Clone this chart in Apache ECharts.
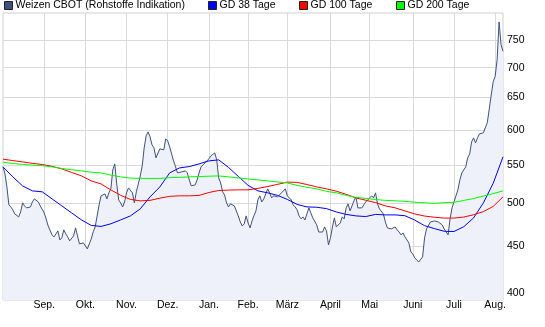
<!DOCTYPE html>
<html>
<head>
<meta charset="utf-8">
<script src="https://cdn.jsdelivr.net/npm/echarts@6/dist/echarts.min.js"></script>
<style>
  html, body { margin: 0; padding: 0; background: #fff; }
  #chart { width: 545px; height: 327px; }
</style>
</head>
<body>
<div id="chart"></div>
<script>
// Weizen CBOT, daily settlement (US cents/bushel) with 38/100/200-day moving averages.

// Trading sessions shown: 3 Aug 2011 – 7 Aug 2012, exchange holidays skipped
const firstDay = '2011-08-03';
const lastDay = '2012-08-07';
const exchangeHolidays = [
  '2011-09-05', '2011-11-24', '2011-12-26', '2012-01-02', '2012-01-16',
  '2012-02-20', '2012-04-06', '2012-05-28', '2012-07-04'
];

const monthNames = ['Jan.', 'Feb.', 'März', 'April', 'Mai', 'Juni', 'Juli', 'Aug.', 'Sep.', 'Okt.', 'Nov.', 'Dez.'];

// Price scale (logarithmic)
const priceTicks = [400, 450, 500, 550, 600, 650, 700, 750];
const priceRange = [393.6, 801.5];

const seriesNames = ['Weizen CBOT (Rohstoffe Indikation)', 'GD 38 Tage', 'GD 100 Tage', 'GD 200 Tage'];

// One close per trading session
const price = [
  547.4, 537.9, 520.9, 498.2, 495.7, 492.1, 487.2, 489.6, 483.6, 489.6,
  500.7, 497.0, 494.5, 493.3, 495.7, 501.9, 505.7, 508.2, 501.9, 497.0,
  498.2, 488.4, 481.2, 473.0, 471.7, 462.5, 460.2, 461.4, 467.1, 456.8,
  459.1, 468.3, 463.7, 460.2, 455.7, 456.8, 461.4, 470.6, 468.3, 452.3,
  451.2, 453.4, 451.2, 446.7, 444.5, 457.9, 466.0, 471.7, 472.9, 498.2,
  509.5, 510.7, 512.0, 505.7, 513.3, 518.4, 543.3, 551.5, 524.8, 504.4,
  500.7, 495.7, 501.9, 513.3, 519.6, 518.4, 513.3, 500.7, 514.6, 524.8,
  535.3, 548.7, 573.8, 591.1, 597.0, 589.6, 578.1, 573.8, 559.8, 559.8,
  572.4, 571.0, 571.0, 586.8, 583.8, 575.2, 565.3, 555.6, 547.4, 539.3,
  539.3, 540.6, 540.6, 542.0, 539.3, 530.0, 522.2, 523.5, 523.5, 530.0,
  539.3, 547.4, 547.4, 552.8, 555.6, 558.4, 562.5, 559.8, 566.7, 557.0,
  532.6, 526.1, 514.6, 510.7, 500.7, 495.7, 499.5, 499.5, 497.0, 495.7,
  484.8, 477.6, 472.9, 475.3, 484.8, 476.4, 470.6, 478.8, 485.0, 490.9,
  504.4, 509.5, 501.9, 505.7, 508.2, 518.4, 513.3, 506.9, 509.5, 512.0,
  508.2, 509.5, 513.3, 515.8, 518.4, 509.5, 509.5, 504.4, 498.2, 495.7,
  492.1, 484.8, 481.2, 483.6, 480.0, 487.2, 494.5, 488.4, 482.4, 481.2,
  474.1, 465.8, 465.8, 465.8, 471.7, 467.1, 451.2, 459.1, 471.7, 482.4,
  471.7, 470.6, 476.4, 483.6, 481.2, 494.5, 499.5, 490.9, 497.0, 503.2,
  508.2, 494.5, 492.1, 494.5, 498.2, 501.9, 503.2, 506.9, 509.5, 506.9,
  513.3, 499.5, 493.3, 492.1, 487.2, 477.6, 470.6, 468.3, 469.4, 471.7,
  471.7, 468.3, 465.8, 462.5, 464.8, 460.2, 460.2, 453.4, 443.4, 441.2,
  436.9, 434.7, 432.5, 430.4, 437.9, 459.1, 469.4, 470.6, 477.6, 477.6,
  478.8, 477.6, 477.6, 476.4, 474.1, 469.4, 467.1, 462.5, 481.2, 494.5,
  501.9, 501.9, 517.1, 530.0, 539.3, 539.3, 547.4, 559.8, 565.3, 582.4,
  588.2, 580.9, 588.2, 594.1, 595.6, 595.6, 597.0, 611.0, 632.0, 654.4,
  676.0, 685.0, 714.0, 784.0, 741.0, 729.0
];

// Moving averages, one value every 5th session (sessions 0, 5, 10, ... 255)
const maStep = 5;
const gd38 = [
  547.4, 534.0, 522.2, 515.8, 514.6, 505.7, 497.0, 488.4, 480.0, 473.5,
  472.3, 475.4, 480.0, 484.8, 493.3, 508.2, 520.9, 539.3, 546.0, 547.8,
  551.5, 555.6, 557.0, 546.7, 534.6, 522.9, 515.8, 513.3, 510.1, 505.0,
  498.8, 495.7, 495.3, 493.6, 489.6, 486.6, 484.8, 484.0, 486.6, 486.0,
  486.0, 485.0, 479.8, 473.2, 469.8, 466.7, 466.4, 472.0, 482.4, 500.7,
  525.6, 561.2
];
const gd100 = [
  558.0, 556.0, 554.2, 552.2, 550.7, 548.1, 544.7, 539.9, 535.3, 528.7,
  524.8, 517.1, 510.1, 505.0, 503.2, 503.8, 506.6, 508.9, 509.5, 509.5,
  510.0, 513.7, 516.3, 516.8, 517.1, 517.1, 519.0, 521.4, 524.2, 527.1,
  526.8, 524.0, 520.9, 518.4, 515.4, 511.4, 506.9, 504.0, 501.0, 497.0,
  494.6, 490.8, 487.2, 484.6, 483.2, 482.2, 482.2, 483.4, 486.2, 490.0,
  496.3, 508.2
];
const gd200 = [
  553.8, 552.0, 550.8, 549.7, 549.1, 547.4, 545.2, 543.6, 542.0, 540.2,
  539.3, 536.3, 534.0, 532.4, 532.1, 531.9, 532.0, 533.0, 533.3, 534.0,
  534.4, 534.9, 535.3, 534.0, 532.6, 531.3, 530.0, 528.7, 527.4, 526.1,
  522.9, 520.4, 518.4, 515.2, 513.3, 510.1, 507.6, 506.3, 504.9, 503.8,
  503.3, 502.6, 501.5, 500.8, 500.1, 501.0, 501.3, 503.8, 506.1, 509.2,
  512.3, 515.8
];

function tradingDays(from, to, closed) {
  const skip = new Set(closed);
  const out = [];
  const end = Date.parse(to + 'T00:00:00Z');
  for (let t = Date.parse(from + 'T00:00:00Z'); t <= end; t += 86400000) {
    const d = new Date(t);
    const wd = d.getUTCDay();
    const s = d.toISOString().slice(0, 10);
    if (wd !== 0 && wd !== 6 && !skip.has(s)) out.push(s);
  }
  return out;
}

const days = tradingDays(firstDay, lastDay, exchangeHolidays);

// first session of each month gets a grid line and a label
const monthStarts = new Set();
days.forEach((d, i) => {
  if (i > 0 && d.slice(5, 7) !== days[i - 1].slice(5, 7)) monthStarts.add(i);
});
const isMonthStart = (i) => monthStarts.has(i);

// log scale: plot ln(price) on a linear axis
const ln = (v) => (v == null ? null : Math.log(v));

function sparse(values) {
  const out = new Array(days.length).fill(null);
  values.forEach((v, k) => {
    const idx = Math.min(k * maStep, days.length - 1);
    out[idx] = ln(v);
  });
  return out;
}

const font = 'Liberation Sans, Arial, sans-serif';
const textStyle = { fontFamily: font, fontSize: 10.5, color: '#000' };

const colors = ['#415179', '#0000ff', '#ff0000', '#00ff00'];
const legendX = [4, 208, 299, 396];

const chart = echarts.init(document.getElementById('chart'), null, { renderer: 'canvas' });

chart.setOption({
  animation: false,
  backgroundColor: '#fff',
  textStyle: textStyle,
  legend: seriesNames.map((name, i) => ({
    data: [{ name: name, icon: 'rect' }],
    left: legendX[i],
    top: 0,
    itemWidth: 8,
    itemHeight: 8,
    itemGap: 0,
    padding: 0,
    selectedMode: false,
    itemStyle: { borderColor: '#222', borderWidth: 1 },
    textStyle: Object.assign({}, textStyle, { padding: [0, 0, 0, -2] })
  })),
  grid: {
    left: 3,
    right: 42,
    top: 13,
    bottom: 27,
    show: true,
    borderColor: '#cfcfcf',
    borderWidth: 1,
    backgroundColor: 'transparent'
  },
  xAxis: {
    type: 'category',
    data: days,
    boundaryGap: false,
    axisLine: { show: false },
    axisTick: { show: false, interval: isMonthStart },
    axisLabel: {
      interval: isMonthStart,
      margin: 0,
      fontFamily: font,
      fontSize: 10.5,
      color: '#000',
      formatter: (d) => monthNames[parseInt(d.slice(5, 7), 10) - 1]
    },
    splitLine: {
      show: true,
      interval: isMonthStart,
      lineStyle: { color: '#dadada', width: 1 }
    }
  },
  yAxis: {
    type: 'value',
    position: 'right',
    min: Math.log(priceRange[0]),
    max: Math.log(priceRange[1]),
    axisLine: { show: false },
    axisTick: { show: false, customValues: priceTicks.map(Math.log) },
    axisLabel: {
      customValues: priceTicks.map(Math.log),
      margin: 4,
      fontFamily: font,
      fontSize: 10.5,
      color: '#000',
      formatter: (v) => String(Math.round(Math.exp(v)))
    },
    splitLine: { show: true, lineStyle: { color: '#dadada', width: 1 } }
  },
  series: [
    {
      name: seriesNames[0],
      type: 'line',
      data: price.map(ln),
      color: colors[0],
      showSymbol: false,
      symbol: 'none',
      lineStyle: { width: 1, color: colors[0] },
      areaStyle: { color: '#eef1fa', opacity: 1, origin: 'start' },
      z: 2
    },
    {
      name: seriesNames[1],
      type: 'line',
      data: sparse(gd38),
      connectNulls: true,
      color: colors[1],
      symbol: 'none',
      lineStyle: { width: 1, color: colors[1] },
      z: 3
    },
    {
      name: seriesNames[2],
      type: 'line',
      data: sparse(gd100),
      connectNulls: true,
      color: colors[2],
      symbol: 'none',
      lineStyle: { width: 1, color: colors[2] },
      z: 3
    },
    {
      name: seriesNames[3],
      type: 'line',
      data: sparse(gd200),
      connectNulls: true,
      color: colors[3],
      symbol: 'none',
      lineStyle: { width: 1, color: colors[3] },
      z: 3
    }
  ]
});
</script>
</body>
</html>
